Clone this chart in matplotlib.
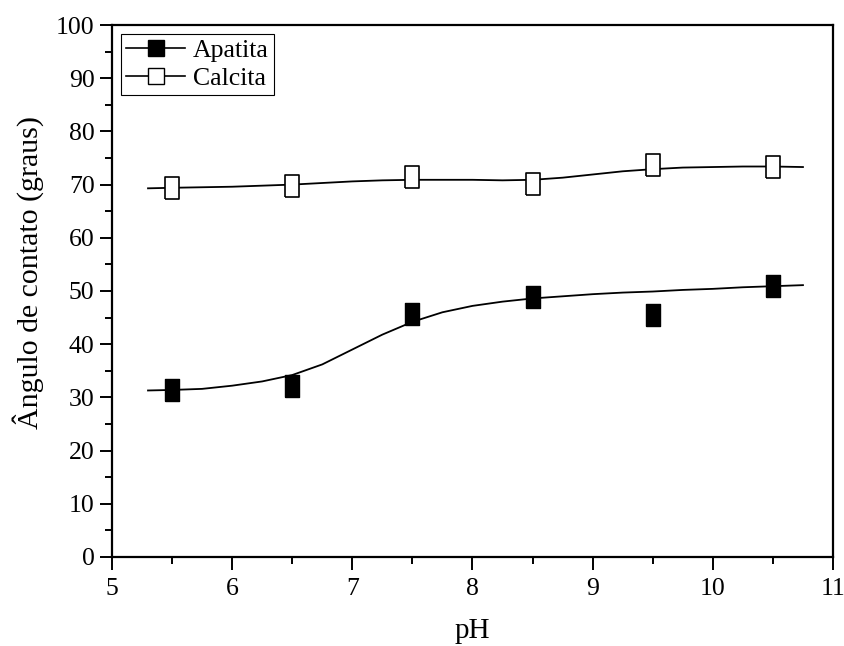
import matplotlib
matplotlib.use("Agg")
import matplotlib.pyplot as plt
from matplotlib.lines import Line2D
from matplotlib.ticker import MultipleLocator

plt.rcParams['font.family'] = ['Liberation Serif', 'DejaVu Serif']

# measured points
ph = [5.5, 6.5, 7.5, 8.5, 9.5, 10.5]
apatita = [31.4, 32.1, 45.7, 48.8, 45.5, 50.9]
calcita = [69.3, 69.7, 71.4, 70.2, 73.6, 73.3]

# fitted curves
ph_fit = [5.3, 5.5, 5.75, 6.0, 6.25, 6.5, 6.75, 7.0, 7.25, 7.5, 7.75, 8.0,
          8.25, 8.5, 8.75, 9.0, 9.25, 9.5, 9.75, 10.0, 10.25, 10.5, 10.75]
apatita_fit = [31.3, 31.4, 31.6, 32.2, 33.0, 34.2, 36.2, 39.0, 41.8, 44.2, 46.0, 47.2,
               48.0, 48.6, 49.0, 49.4, 49.7, 49.9, 50.2, 50.4, 50.7, 50.9, 51.1]
calcita_fit = [69.3, 69.4, 69.5, 69.6, 69.8, 70.0, 70.3, 70.6, 70.8, 70.9, 70.9, 70.9,
               70.8, 70.9, 71.3, 71.9, 72.5, 72.9, 73.2, 73.3, 73.4, 73.4, 73.3]

fig = plt.figure(figsize=(8.45, 6.46), dpi=100)
ax = fig.add_axes([0.1325, 0.1378, 0.8533, 0.8235])

# tall rectangle marker (picture is stretched vertically)
rect = [(-0.66, -1), (0.66, -1), (0.66, 1), (-0.66, 1), (-0.66, -1)]

ax.plot(ph_fit, apatita_fit, color='black', lw=1.3)
ax.plot(ph_fit, calcita_fit, color='black', lw=1.3)
ax.plot(ph, apatita, ls='none', marker=rect, ms=16, mfc='black', mec='black')
ax.plot(ph, calcita, ls='none', marker=rect, ms=16, mfc='white', mec='black', mew=1.2)

ax.set_xlim(5, 11)
ax.set_ylim(0, 100)
ax.xaxis.set_major_locator(MultipleLocator(1))
ax.xaxis.set_minor_locator(MultipleLocator(0.5))
ax.yaxis.set_major_locator(MultipleLocator(10))
ax.yaxis.set_minor_locator(MultipleLocator(5))
ax.tick_params(which='major', direction='out', length=9, width=1.4, labelsize=18.5)
ax.tick_params(axis='x', which='major', pad=6)
ax.tick_params(which='minor', direction='out', length=5, width=1.4)
for s in ax.spines.values():
    s.set_linewidth(1.6)

ax.set_xlabel('pH', fontsize=21, labelpad=13)
ax.set_ylabel('Ângulo de contato (graus)', fontsize=21.5)
ax.yaxis.set_label_coords(-0.094, 0.535)

handles = [
    Line2D([], [], color='black', lw=1.2, marker='s', ms=11.5, mfc='black', mec='black'),
    Line2D([], [], color='black', lw=1.2, marker='s', ms=11.5, mfc='white', mec='black'),
]
leg = ax.legend(handles, ['Apatita', 'Calcita'], loc='upper left', fontsize=18.5,
                frameon=True, fancybox=False, edgecolor='black', framealpha=1,
                handlelength=2.3, handletextpad=0.3, borderpad=0.2,
                labelspacing=0.2, borderaxespad=0.35)
leg.get_frame().set_linewidth(0.8)

fig.savefig('out.png', dpi=100)
